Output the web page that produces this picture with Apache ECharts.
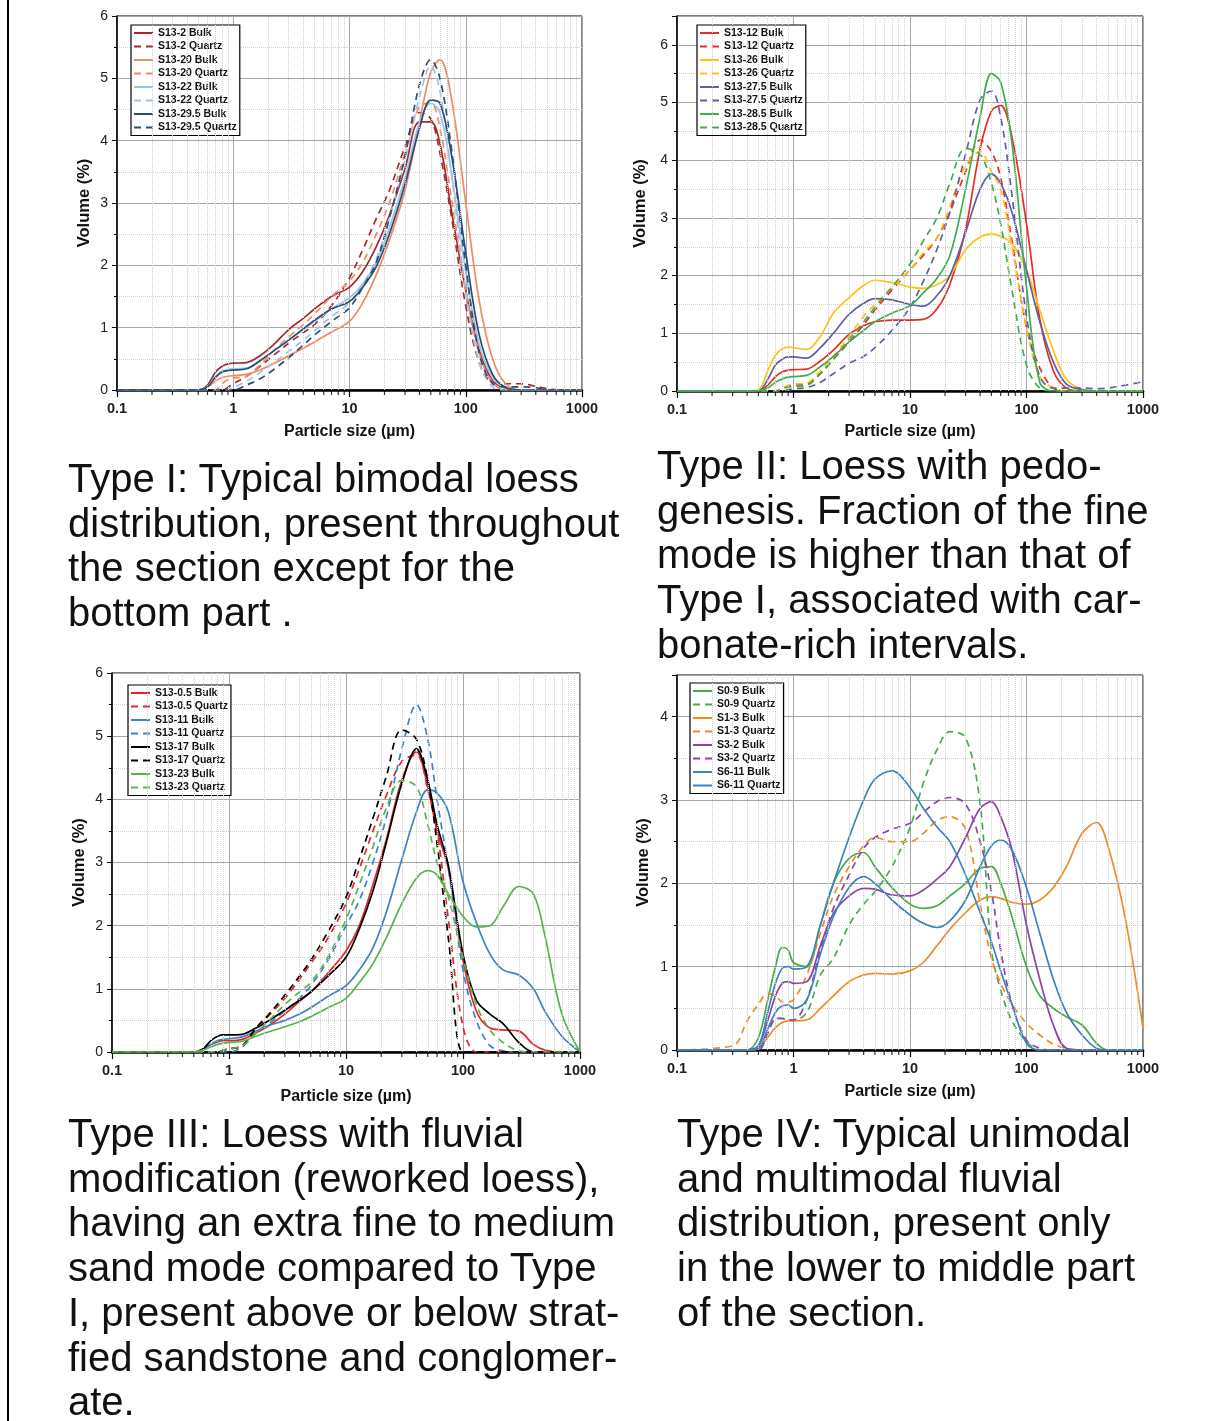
<!DOCTYPE html>
<html>
<head>
<meta charset="utf-8">
<script src="https://cdn.jsdelivr.net/npm/echarts@6/dist/echarts.min.js"></script>
<style>
  body{margin:0;background:#fff;}
  #wrap{position:relative;width:1224px;height:1421px;overflow:hidden;background:#fff;}
  #chart{position:absolute;left:0;top:0;width:1224px;height:1421px;}
  #edge{position:absolute;left:7px;top:0;width:2px;height:1421px;background:#000;}
  .cap{position:absolute;font-family:"Liberation Sans",Arial,sans-serif;font-size:40px;line-height:44.7px;color:#111;white-space:nowrap;}
</style>
</head>
<body>
<div id="wrap">
  <div id="chart"></div>
  <div id="edge"></div>
  <div class="cap" style="left:68px;top:456px">Type I: Typical bimodal loess<br>distribution, present throughout<br>the section except for the<br>bottom part .</div>
  <div class="cap" style="left:657px;top:443px">Type II: Loess with pedo-<br>genesis. Fraction of the fine<br>mode is higher than that of<br>Type I, associated with car-<br>bonate-rich intervals.</div>
  <div class="cap" style="left:68px;top:1111px">Type III: Loess with fluvial<br>modification (reworked loess),<br>having an extra fine to medium<br>sand mode compared to Type<br>I, present above or below strat-<br>fied sandstone and conglomer-<br>ate.</div>
  <div class="cap" style="left:677px;top:1111px">Type IV: Typical unimodal<br>and multimodal fluvial<br>distribution, present only<br>in the lower to middle part<br>of the section.</div>
</div>
<script>
// particle sizes (µm) shared by all curves
var sizes = [0.1,0.3,0.4,0.5,0.6,0.7,0.8,0.9,1,1.3,1.7,2.2,3,4,5,7,10,13,17,22,30,40,50,60,75,100,130,170,220,300,400,500,700,1000];

// Type I
var s13_2_bulk     = [0,0,0,0,0.08,0.28,0.38,0.42,0.43,0.44,0.55,0.72,0.97,1.15,1.3,1.5,1.65,1.9,2.3,2.8,3.55,4.3,4.3,3.95,2.9,1.6,0.65,0.15,0.03,0,0,0,0,0];
var s13_2_quartz   = [0,0,0,0,0,0,0,0.04,0.1,0.22,0.38,0.55,0.75,0.92,1.05,1.35,1.8,2.25,2.75,3.2,3.9,4.45,4.35,3.8,2.8,1.35,0.45,0.12,0.1,0.1,0.06,0.02,0,0];
var s13_20_bulk    = [0,0,0,0,0.05,0.14,0.2,0.22,0.23,0.25,0.32,0.42,0.55,0.67,0.77,0.93,1.1,1.4,1.85,2.4,3.2,4.3,5.1,5.3,4.7,3.0,1.45,0.5,0.1,0,0,0,0,0];
var s13_20_quartz  = [0,0,0,0,0,0,0.1,0.17,0.19,0.22,0.4,0.62,0.85,1.05,1.22,1.5,1.75,2.05,2.5,3.0,3.8,4.55,4.6,4.2,3.1,1.6,0.6,0.12,0,0,0,0,0,0];
var s13_22_bulk    = [0,0,0,0,0.05,0.22,0.3,0.33,0.34,0.35,0.47,0.62,0.8,0.97,1.1,1.3,1.48,1.7,2.05,2.6,3.4,4.3,4.6,4.45,3.5,1.9,0.75,0.2,0.03,0,0,0,0,0];
var s13_22_quartz  = [0,0,0,0,0,0,0,0,0.04,0.14,0.28,0.43,0.62,0.8,0.95,1.18,1.4,1.7,2.1,2.75,3.7,4.7,5.2,4.8,3.5,1.6,0.45,0.05,0,0,0,0,0,0];
var s13_29_bulk    = [0,0,0,0,0.05,0.2,0.29,0.31,0.32,0.34,0.47,0.62,0.8,0.98,1.12,1.3,1.42,1.65,1.98,2.5,3.3,4.2,4.65,4.6,3.8,2.2,0.9,0.25,0.04,0,0,0,0,0];
var s13_29_quartz  = [0,0,0,0,0,0,0,0,0,0.08,0.18,0.32,0.52,0.72,0.88,1.1,1.32,1.65,2.05,2.75,3.75,4.9,5.3,5.0,3.9,2.0,0.6,0.1,0.05,0.05,0.04,0,0,0];

// Type II
var s13_12_bulk    = [0,0,0,0,0.1,0.25,0.33,0.36,0.37,0.38,0.52,0.71,0.98,1.13,1.2,1.23,1.23,1.24,1.42,1.85,2.8,4.2,4.85,4.95,4.4,2.9,1.25,0.35,0.05,0,0,0,0,0];
var s13_12_quartz  = [0,0,0,0,0,0,0.05,0.08,0.1,0.12,0.3,0.55,0.85,1.15,1.4,1.75,2.1,2.35,2.65,3.1,3.8,4.35,4.15,3.7,2.6,1.1,0.4,0.05,0,0,0,0,0,0];
var s13_26_bulk    = [0,0,0,0.02,0.35,0.62,0.73,0.76,0.75,0.72,0.95,1.35,1.62,1.83,1.92,1.88,1.8,1.78,1.84,2.0,2.45,2.67,2.72,2.68,2.55,2.1,1.4,0.7,0.2,0.03,0,0,0,0];
var s13_26_quartz  = [0,0,0,0,0,0,0.05,0.1,0.12,0.14,0.35,0.6,0.95,1.3,1.5,1.8,2.1,2.4,2.65,3.2,3.9,4.15,3.8,3.5,2.5,1.1,0.25,0.05,0,0,0,0,0,0];
var s13_27_bulk    = [0,0,0,0,0.2,0.45,0.55,0.59,0.59,0.57,0.75,1.0,1.33,1.52,1.6,1.58,1.5,1.47,1.65,2.0,2.75,3.5,3.76,3.6,3.1,2.1,1.2,0.5,0.12,0.02,0,0,0,0];
var s13_27_quartz  = [0,0,0,0,0,0,0,0.02,0.04,0.06,0.15,0.3,0.48,0.6,0.75,1.05,1.45,1.9,2.45,3.1,4.1,5.05,5.2,4.75,3.4,1.3,0.25,0.05,0.05,0.05,0.04,0.05,0.1,0.16];
var s13_28_bulk    = [0,0,0,0,0.05,0.15,0.21,0.24,0.25,0.27,0.42,0.6,0.85,1.05,1.2,1.35,1.48,1.7,1.95,2.35,3.5,4.75,5.5,5.35,4.3,1.8,0.15,0,0,0,0,0,0,0];
var s13_28_quartz  = [0,0,0,0,0,0,0.04,0.07,0.08,0.1,0.3,0.55,0.9,1.2,1.45,1.8,2.2,2.6,3.0,3.6,4.2,4.1,3.6,2.9,1.75,0.45,0.05,0,0,0,0,0,0,0];

// Type III
var s13_05_bulk    = [0,0,0,0,0.05,0.12,0.16,0.18,0.18,0.2,0.3,0.42,0.6,0.8,0.95,1.25,1.6,2.0,2.65,3.35,4.3,4.75,4.2,3.5,2.9,1.45,0.65,0.38,0.35,0.33,0.12,0.03,0,0];
var s13_05_quartz  = [0,0,0,0,0,0,0,0.03,0.05,0.1,0.35,0.58,0.85,1.15,1.4,1.8,2.35,2.9,3.5,4.05,4.6,4.7,4.15,3.5,2.1,0.4,0,0,0,0,0,0,0,0];
var s13_11_bulk    = [0,0,0,0,0.04,0.12,0.18,0.2,0.21,0.24,0.33,0.42,0.5,0.6,0.7,0.88,1.05,1.3,1.65,2.2,3.05,3.8,4.15,4.1,3.8,2.7,2.05,1.55,1.3,1.22,1.0,0.65,0.25,0];
var s13_11_quartz  = [0,0,0,0,0,0,0,0,0,0.08,0.3,0.45,0.65,0.85,1.05,1.45,2.0,2.4,3.0,3.7,4.8,5.5,4.95,4.0,2.9,1.3,0.5,0.1,0.02,0,0,0,0,0];
var s13_17_bulk    = [0,0,0,0,0.05,0.18,0.25,0.27,0.27,0.28,0.38,0.5,0.66,0.82,0.95,1.2,1.5,1.95,2.55,3.3,4.25,4.8,4.3,3.6,2.95,1.55,0.82,0.6,0.45,0.15,0,0,0,0];
var s13_17_quartz  = [0,0,0,0,0,0,0,0.03,0.05,0.1,0.38,0.6,0.9,1.2,1.45,1.9,2.45,3.05,3.7,4.35,5.1,4.95,4.3,3.3,1.8,0,0,0,0,0,0,0,0,0];
var s13_23_bulk    = [0,0,0,0,0.03,0.08,0.12,0.14,0.15,0.17,0.25,0.32,0.4,0.48,0.56,0.7,0.85,1.1,1.4,1.8,2.35,2.75,2.87,2.8,2.5,2.15,1.98,2.0,2.3,2.62,2.5,1.85,0.6,0];
var s13_23_quartz  = [0,0,0,0,0,0,0,0.03,0.05,0.1,0.3,0.5,0.75,0.95,1.1,1.5,2.1,2.65,3.25,3.85,4.3,4.2,3.6,3.0,2.45,1.5,0.75,0.35,0.15,0.02,0,0,0,0];

// Type IV
var s0_9_bulk      = [0,0,0,0.15,0.6,1.0,1.23,1.2,1.05,1.0,1.5,2.0,2.3,2.37,2.2,1.95,1.75,1.7,1.73,1.85,2.0,2.18,2.2,2.0,1.6,1.0,0.65,0.5,0.4,0.3,0.08,0,0,0];
var s0_9_quartz    = [0,0,0,0,0.2,0.38,0.38,0.36,0.36,0.45,0.9,1.1,1.5,1.75,1.9,2.2,2.67,3.2,3.6,3.82,3.75,2.95,1.2,0.72,0.35,0.1,0,0,0,0,0,0,0,0];
var s1_3_bulk      = [0,0,0,0.02,0.15,0.27,0.33,0.35,0.35,0.36,0.5,0.65,0.82,0.9,0.92,0.91,0.95,1.05,1.25,1.45,1.65,1.8,1.84,1.82,1.77,1.75,1.8,1.95,2.2,2.6,2.73,2.45,1.6,0.26];
var s1_3_quartz    = [0,0.05,0.35,0.55,0.68,0.65,0.58,0.58,0.6,0.9,1.4,1.85,2.2,2.45,2.55,2.5,2.5,2.6,2.75,2.8,2.65,1.75,1.1,0.8,0.55,0.32,0.18,0.07,0.02,0,0,0,0,0];
var s3_2_bulk      = [0,0,0,0.05,0.35,0.65,0.8,0.82,0.8,0.82,1.25,1.64,1.85,1.94,1.93,1.86,1.85,1.92,2.05,2.2,2.55,2.9,2.98,2.8,2.4,1.5,0.85,0.3,0.02,0,0,0,0,0];
var s3_2_quartz    = [0,0,0,0,0.2,0.37,0.38,0.36,0.36,0.6,1.2,1.7,2.1,2.42,2.55,2.65,2.72,2.85,2.98,3.03,2.95,2.5,1.9,1.2,0.55,0.12,0.02,0,0,0,0,0,0,0];
var s6_11_bulk     = [0,0,0,0.05,0.45,0.8,0.98,1.0,0.97,1.0,1.5,2.0,2.55,3.0,3.25,3.35,3.15,2.9,2.68,2.5,2.1,1.65,1.3,0.95,0.55,0.08,0,0,0,0,0,0,0,0];
var s6_11_quartz   = [0,0,0,0.02,0.25,0.45,0.53,0.54,0.5,0.6,1.15,1.6,1.95,2.08,2.0,1.8,1.62,1.52,1.47,1.55,1.8,2.2,2.45,2.52,2.4,1.95,1.4,0.85,0.45,0.18,0.02,0,0,0];

var yTicksMax = [6, 6.5, 6, 4.5];

var panels = [
  { grid:{left:117, top:16, width:465, height:374}, xGap:34, yGap:24, legend:{left:131, top:25},
    lines:[
      ['S13-2 Bulk', s13_2_bulk, '#A32B2E', false], ['S13-2 Quartz', s13_2_quartz, '#A32B2E', true],
      ['S13-20 Bulk', s13_20_bulk, '#F4895F', false], ['S13-20 Quartz', s13_20_quartz, '#F4895F', true],
      ['S13-22 Bulk', s13_22_bulk, '#9DC3E6', false], ['S13-22 Quartz', s13_22_quartz, '#9DC3E6', true],
      ['S13-29.5 Bulk', s13_29_bulk, '#2A4D74', false], ['S13-29.5 Quartz', s13_29_quartz, '#2A4D74', true]
    ]},
  { grid:{left:677, top:16, width:466, height:375}, xGap:33, yGap:28, legend:{left:697, top:25},
    lines:[
      ['S13-12 Bulk', s13_12_bulk, '#E52D27', false], ['S13-12 Quartz', s13_12_quartz, '#E52D27', true],
      ['S13-26 Bulk', s13_26_bulk, '#FFC20E', false], ['S13-26 Quartz', s13_26_quartz, '#FFC20E', true],
      ['S13-27.5 Bulk', s13_27_bulk, '#5E5FA5', false], ['S13-27.5 Quartz', s13_27_quartz, '#5E5FA5', true],
      ['S13-28.5 Bulk', s13_28_bulk, '#3BAF4C', false], ['S13-28.5 Quartz', s13_28_quartz, '#3BAF4C', true]
    ]},
  { grid:{left:112, top:673, width:468, height:379}, xGap:37, yGap:24, legend:{left:128, top:685},
    lines:[
      ['S13-0.5 Bulk', s13_05_bulk, '#E4262C', false], ['S13-0.5 Quartz', s13_05_quartz, '#E4262C', true],
      ['S13-11 Bulk', s13_11_bulk, '#3C83C4', false], ['S13-11 Quartz', s13_11_quartz, '#3C83C4', true],
      ['S13-17 Bulk', s13_17_bulk, '#000000', false], ['S13-17 Quartz', s13_17_quartz, '#000000', true],
      ['S13-23 Bulk', s13_23_bulk, '#55B548', false], ['S13-23 Quartz', s13_23_quartz, '#55B548', true]
    ]},
  { grid:{left:677, top:675, width:466, height:375}, xGap:34, yGap:25, legend:{left:690, top:683},
    lines:[
      ['S0-9 Bulk', s0_9_bulk, '#45AC48', false], ['S0-9 Quartz', s0_9_quartz, '#45AC48', true],
      ['S1-3 Bulk', s1_3_bulk, '#F08A24', false], ['S1-3 Quartz', s1_3_quartz, '#F08A24', true],
      ['S3-2 Bulk', s3_2_bulk, '#8E43A8', false], ['S3-2 Quartz', s3_2_quartz, '#8E43A8', true],
      ['S6-11 Bulk', s6_11_bulk, '#3A83C2', false], ['S6-11 Quartz', s6_11_quartz, '#3A83C2', false]
    ]}
];

// minor log positions 2..9 in every decade
var minorX = [];
[0.1, 1, 10, 100].forEach(function (d) {
  for (var k = 2; k <= 9; k++) minorX.push(+(d * k).toPrecision(3));
});

var option = {
  animation: false,
  backgroundColor: '#fff',
  textStyle: { fontFamily: '"Liberation Sans", Arial, sans-serif' },
  grid: [], xAxis: [], yAxis: [], legend: [], series: []
};

panels.forEach(function (p, i) {
  option.grid.push(Object.assign({ show: true, borderColor: '#000', borderWidth: 1, containLabel: false }, p.grid));
  option.xAxis.push({
    type: 'log', logBase: 10, min: 0.1, max: 1000, gridIndex: i,
    name: 'Particle size (µm)', nameLocation: 'middle', nameGap: p.xGap,
    nameTextStyle: { fontWeight: 'bold', fontSize: 16, color: '#111' },
    axisLine: { lineStyle: { color: '#000', width: 2.5 } },
    axisTick: { show: true, length: 7, lineStyle: { color: '#000', width: 1.2 } },
    axisLabel: { fontWeight: 'bold', fontSize: 14.5, color: '#222', margin: 11,
      formatter: function (v) { return String(Math.round(v * 10) / 10); } },
    splitLine: { show: true, lineStyle: { color: '#a8a8a8', width: 1 } }
  });
  option.yAxis.push({
    type: 'value', gridIndex: i, min: 0, max: yTicksMax[i], interval: 1,
    name: 'Volume (%)', nameLocation: 'middle', nameGap: p.yGap,
    nameTextStyle: { fontWeight: 'bold', fontSize: 16.5, color: '#111' },
    axisLine: { show: true, lineStyle: { color: '#000', width: 1.5 } },
    axisTick: { show: true, length: 5, lineStyle: { color: '#000' } },
    minorTick: { show: true, splitNumber: 2, length: 3, lineStyle: { color: '#000' } },
    axisLabel: { fontSize: 14, color: '#222', margin: 9, showMaxLabel: (i === 1 || i === 3) ? false : true },
    splitLine: { show: true, lineStyle: { color: '#a8a8a8', width: 1 } },
    minorSplitLine: { show: true, lineStyle: { color: '#cfcfcf', type: 'dotted', width: 1 } }
  });
  option.legend.push({
    orient: 'vertical', left: p.legend.left, top: p.legend.top,
    data: p.lines.map(function (l) { return l[0]; }),
    itemWidth: 19, itemHeight: 10, itemGap: 1.5,
    padding: [2, 3, 2, 2],
    borderColor: '#000', borderWidth: 1.2, backgroundColor: '#fff',
    selectedMode: false,
    itemStyle: { opacity: 0 },
    textStyle: { fontSize: 10.5, fontWeight: 'bold', color: '#111', lineHeight: 12 }
  });
  // dotted minor grid on the log axis
  option.series.push({
    type: 'line', xAxisIndex: i, yAxisIndex: i, data: [[1, 0]], silent: true,
    showSymbol: false, lineStyle: { opacity: 0 }, z: 1,
    markLine: { silent: true, symbol: 'none', label: { show: false },
      lineStyle: { color: '#cfcfcf', type: 'dotted', width: 1 },
      emphasis: { disabled: true },
      data: minorX.map(function (v) { return { xAxis: v }; }) }
  });
  // minor ticks under the log axis
  option.series.push({
    type: 'scatter', xAxisIndex: i, yAxisIndex: i, silent: true, clip: false, z: 6,
    data: minorX.map(function (v) { return [v, 0]; }),
    symbol: 'rect', symbolSize: [1.2, 4], symbolOffset: [0, 3],
    itemStyle: { color: '#000' }
  });
  p.lines.forEach(function (l) {
    option.series.push({
      name: l[0], type: 'line', xAxisIndex: i, yAxisIndex: i,
      data: sizes.map(function (s, k) { return [s, l[1][k]]; }),
      smooth: 0.35, symbol: 'none', z: 3,
      color: l[2],
      lineStyle: { color: l[2], width: 1.7, type: l[3] ? [7, 5] : 'solid' }
    });
  });
});

var chart = echarts.init(document.getElementById('chart'), null, { renderer: 'canvas' });
chart.setOption(option);
</script>
</body>
</html>
